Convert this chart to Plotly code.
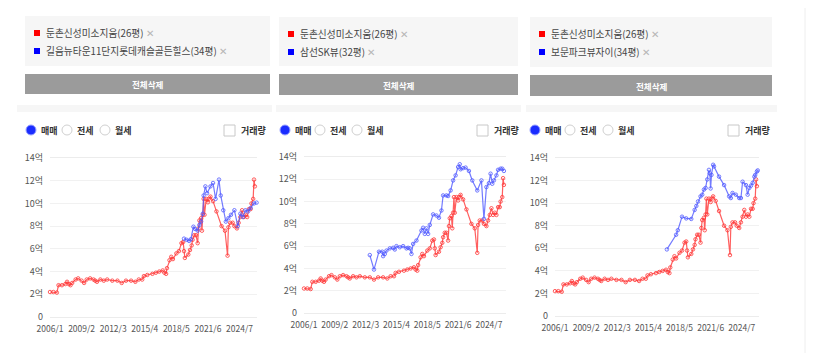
import plotly.graph_objects as go

# ---------------- data ----------------
tick_months = [0, 37, 74, 111, 148, 185, 222]
tick_labels = ["2006/1", "2009/2", "2012/3", "2015/4", "2018/5", "2021/6", "2024/7"]
y_ticks = [0, 2, 4, 6, 8, 10, 12, 14]
y_labels = ["0", "2억", "4억", "6억", "8억", "10억", "12억", "14억"]

# 둔촌신성미소지움(26평) – month index from 2006/1, price in 억
red_month = [0, 4, 8, 10, 14, 18, 20, 22, 24, 26, 30, 33, 37, 40, 43, 47, 51, 53, 55, 59,
             63, 67, 73, 79, 84, 89, 95, 100, 104, 108, 110, 114, 120, 124, 128, 132, 134,
             136, 137, 140, 142, 144, 148, 151, 154, 156, 157, 158, 162, 164, 166, 167, 169,
             171, 173, 174, 175, 177, 178, 179, 180, 181, 183, 185, 186, 188, 191, 195, 201,
             205, 208, 209, 211, 214, 216, 219, 221, 223, 225, 227, 229, 231, 233, 235, 236,
             238, 239, 240]
red_value = [2.2, 2.2, 2.15, 2.8, 2.8, 2.9, 3.1, 2.9, 2.8, 3.0, 3.3, 3.4, 3.2, 3.0, 3.3, 3.4,
             3.3, 3.2, 3.1, 3.3, 3.2, 3.3, 3.2, 3.2, 3.0, 3.2, 3.2, 3.1, 3.3, 3.3, 3.6, 3.7,
             3.8, 3.9, 4.0, 4.1, 3.9, 3.8, 4.3, 5.0, 5.3, 5.1, 5.6, 5.8, 6.5, 6.6, 5.8, 5.2,
             5.5, 5.9, 6.3, 6.8, 7.2, 7.2, 6.5, 7.8, 8.5, 8.7, 7.6, 9.0, 10.4, 9.0, 10.4, 10.1,
             10.4, 10.6, 10.2, 9.3, 8.0, 7.6, 5.4, 7.9, 8.3, 8.3, 8.0, 7.8, 8.3, 8.8, 9.4, 8.8,
             9.0, 8.8, 9.5, 9.5, 10.0, 10.4, 12.1, 11.5]

# 길음뉴타운11단지롯데캐슬골든힐스(34평)
blue1_month = [157, 160, 163, 165, 168, 170, 173, 175, 177, 179, 180, 182, 184, 188, 191,
               194, 198, 200, 203, 206, 209, 212, 216, 220, 223, 226, 229, 232, 235, 239, 242]
blue1_value = [6.9, 6.8, 6.7, 6.85, 7.95, 7.75, 7.6, 8.1, 8.4, 9.1, 10.7, 11.5, 10.9, 11.5,
               11.8, 10.4, 12.1, 10.7, 9.4, 8.4, 8.7, 9.0, 9.4, 8.0, 9.1, 8.8, 9.4, 9.3, 9.6,
               10.0, 10.07]

# 삼선SK뷰(32평)
blue2_month = [79, 84, 90, 94, 95, 97, 99, 103, 107, 109, 111, 115, 119, 123, 125, 127, 129,
               131, 135, 141, 143, 145, 147, 149, 151, 155, 159, 162, 165, 167, 171, 173, 176,
               179, 182, 185, 187, 188, 191, 194, 198, 202, 208, 213, 216, 219, 222, 224, 226,
               228, 231, 233, 236, 238, 240]
blue2_value = [5.2, 3.9, 5.5, 5.5, 5.1, 5.3, 5.6, 5.8, 5.85, 5.7, 6.0, 5.9, 6.0, 5.8, 5.85,
               5.8, 5.3, 6.2, 6.5, 7.4, 7.65, 7.1, 7.6, 7.1, 7.9, 8.85, 8.75, 8.55, 9.2, 10.55,
               10.55, 10.5, 11.0, 11.9, 12.35, 13.1, 13.35, 12.9, 13.0, 13.05, 12.75, 11.9, 11.0,
               11.9, 8.45, 11.3, 11.65, 12.5, 11.6, 11.9, 12.35, 12.85, 12.95, 12.95, 12.75]

# 보문파크뷰자이(34평)
blue3_month = [133, 144, 146, 151, 156, 162, 166, 168, 170, 173, 175, 177, 179, 181, 183,
               184, 185, 186, 188, 189, 195, 201, 207, 209, 211, 215, 219, 221, 223, 227, 229,
               231, 233, 235, 237, 238, 240, 241]
blue3_value = [5.9, 7.2, 7.6, 8.8, 8.65, 8.6, 9.4, 9.75, 10.15, 10.6, 10.75, 11.2, 11.35,
               12.1, 12.95, 12.65, 11.3, 12.5, 13.4, 13.25, 12.35, 11.6, 10.6, 10.45, 10.9,
               10.75, 10.45, 10.45, 11.9, 11.6, 10.75, 11.35, 11.55, 11.8, 12.35, 12.5, 12.8, 12.9]

red_name = "둔촌신성미소지움(26평)"
blue_names = ["길음뉴타운11단지롯데캐슬골든힐스(34평)", "삼선SK뷰(32평)", "보문파크뷰자이(34평)"]

# ---------------- layout helpers ----------------
# the page body has an 8px margin, so the figure is 800x345 and screen coords are shifted
OFF = 8
W, H = 816 - 2 * OFF, 361 - 2 * OFF
FONT = "Noto Sans CJK KR"


def px(x):
    return (x - OFF) / W


def py(y):
    return 1 - (y - OFF) / H


RED_LINE = "rgba(255,55,55,0.8)"
BLUE_LINE = "rgba(80,90,255,0.8)"

panels = [
    dict(plot=(50, 257, 158, 317), box=(25, 270, 16, 66), btn=(25, 270, 74, 94),
         strip=(17, 272, 105, 112), radio=(31, 67, 105), chk=224, blue=(blue1_month, blue1_value)),
    dict(plot=(304, 506, 157, 313), box=(279, 518, 17, 66), btn=(279, 518, 74, 95),
         strip=(276, 521, 105, 112), radio=(285, 320, 357), chk=477, blue=(blue2_month, blue2_value)),
    dict(plot=(555, 759, 158, 316), box=(530, 772, 17, 67), btn=(530, 772, 75, 96),
         strip=(526, 777, 105, 112), radio=(535, 570, 608), chk=728, blue=(blue3_month, blue3_value)),
]

fig = go.Figure()
shapes = []
annotations = []
layout_axes = {}

for i, p in enumerate(panels):
    n = "" if i == 0 else str(i + 1)
    xa, ya = "x" + n, "y" + n
    mk = dict(symbol="circle-open", size=3.5, line=dict(width=1))
    fig.add_trace(go.Scatter(x=red_month, y=red_value, mode="lines+markers", xaxis=xa, yaxis=ya,
                             line=dict(color=RED_LINE, width=1.2), marker=dict(color=RED_LINE, **mk),
                             name=red_name, showlegend=False, cliponaxis=False))
    bm, bv = p["blue"]
    fig.add_trace(go.Scatter(x=bm, y=bv, mode="lines+markers", xaxis=xa, yaxis=ya,
                             line=dict(color=BLUE_LINE, width=1.2), marker=dict(color=BLUE_LINE, **mk),
                             name=blue_names[i], showlegend=False, cliponaxis=False))
    x0, x1, yt, yb = p["plot"]
    layout_axes["xaxis" + n] = dict(
        domain=[px(x0), px(x1)], range=[0, 242.5], anchor=ya, tickvals=tick_months,
        ticktext=tick_labels, showgrid=False, zeroline=False, showline=True, linecolor="#ececec",
        mirror=True, ticks="", tickangle=0, automargin=False,
        tickfont=dict(size=8.5, color="#555", family=FONT),
        ticklabelstandoff=4, fixedrange=True)
    layout_axes["yaxis" + n] = dict(
        domain=[py(yb), py(yt)], range=[0, 14], anchor=xa, tickvals=y_ticks, ticktext=y_labels,
        showgrid=True, gridcolor="#f1f1f1", zeroline=False, showline=False, ticks="",
        automargin=False, tickfont=dict(size=9, color="#555", family=FONT),
        ticklabelstandoff=6, fixedrange=True)

    # legend box
    bx0, bx1, by0, by1 = p["box"]
    shapes.append(dict(type="rect", xref="paper", yref="paper", x0=px(bx0), x1=px(bx1),
                       y0=py(by1), y1=py(by0), fillcolor="#f6f6f6", line=dict(width=0), layer="below"))
    for j, (col, name) in enumerate([("#ff0000", red_name), ("#0000ff", blue_names[i])]):
        yy = 33 + 18 * j + (1 if i > 0 else 0)
        sx = bx0 + 9
        shapes.append(dict(type="rect", xref="paper", yref="paper", x0=px(sx), x1=px(sx + 6),
                           y0=py(yy + 3), y1=py(yy - 3), fillcolor=col, line=dict(width=0)))
        annotations.append(dict(xref="paper", yref="paper", x=px(sx + 10), y=py(yy), xanchor="left",
                                yanchor="middle", showarrow=False,
                                text=name + ' <span style="color:#b5b5b5">✕</span>',
                                font=dict(size=9.7, color="#444", family=FONT)))
    # button
    tx0, tx1, ty0, ty1 = p["btn"]
    shapes.append(dict(type="rect", xref="paper", yref="paper", x0=px(tx0), x1=px(tx1),
                       y0=py(ty1), y1=py(ty0), fillcolor="#9b9b9b", line=dict(width=0)))
    annotations.append(dict(xref="paper", yref="paper", x=px((tx0 + tx1) / 2), y=py((ty0 + ty1) / 2),
                            xanchor="center", yanchor="middle", showarrow=False, text="<b>전체삭제</b>",
                            font=dict(size=8.5, color="#ffffff", family=FONT)))
    # strip
    sx0, sx1, sy0, sy1 = p["strip"]
    shapes.append(dict(type="rect", xref="paper", yref="paper", x0=px(sx0), x1=px(sx1),
                       y0=py(sy1), y1=py(sy0), fillcolor="#f6f6f6", line=dict(width=0), layer="below"))
    # radios
    ry = 130
    for k, (rx, lab) in enumerate(zip(p["radio"], ["매매", "전세", "월세"])):
        if k == 0:
            shapes.append(dict(type="circle", xref="paper", yref="paper", x0=px(rx - 5), x1=px(rx + 5),
                               y0=py(ry + 5), y1=py(ry - 5), fillcolor="#1a2cff",
                               line=dict(color="#9aa3ff", width=1)))
        else:
            shapes.append(dict(type="circle", xref="paper", yref="paper", x0=px(rx - 5), x1=px(rx + 5),
                               y0=py(ry + 5), y1=py(ry - 5), fillcolor="#ffffff",
                               line=dict(color="#d0d0d0", width=1)))
        annotations.append(dict(xref="paper", yref="paper", x=px(rx + 8), y=py(ry), xanchor="left",
                                yanchor="middle", showarrow=False, text="<b>" + lab + "</b>",
                                font=dict(size=9, color="#333", family=FONT)))
    cx = p["chk"]
    shapes.append(dict(type="rect", xref="paper", yref="paper", x0=px(cx), x1=px(cx + 11),
                       y0=py(ry + 6), y1=py(ry - 5), fillcolor="#ffffff", line=dict(color="#c8c8c8", width=1)))
    annotations.append(dict(xref="paper", yref="paper", x=px(cx + 15), y=py(ry), xanchor="left",
                            yanchor="middle", showarrow=False, text="<b>거래량</b>",
                            font=dict(size=9, color="#333", family=FONT)))

# right separator line
shapes.append(dict(type="line", xref="paper", yref="paper", x0=px(805), x1=px(805), y0=0, y1=1,
                   line=dict(color="#eeeeee", width=1)))

fig.update_layout(width=W, height=H, margin=dict(l=0, r=0, t=0, b=0, autoexpand=False),
                  paper_bgcolor="white", plot_bgcolor="white", font=dict(family=FONT),
                  shapes=shapes, annotations=annotations, showlegend=False, **layout_axes)

fig.write_html("out.html")
